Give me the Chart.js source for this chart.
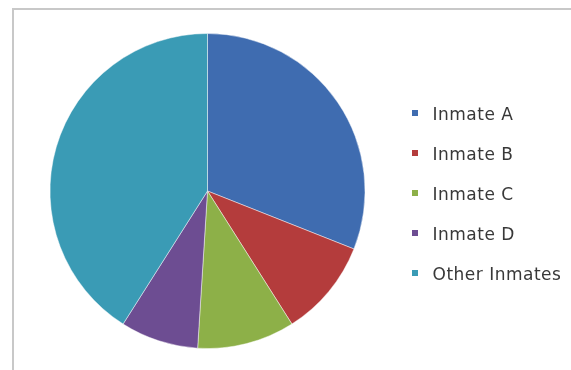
<!doctype html>
<html>
<head>
    <title>Inmates</title>
    <script src="https://cdn.jsdelivr.net/npm/chart.js@4/dist/chart.umd.min.js"></script>
    <style>
        html, body { margin: 0; background: #fff; overflow: hidden; }
        #canvas { display: block; filter: blur(0.5px); }
    </style>
</head>
<body>
    <canvas id="canvas" width="571" height="370"></canvas>
    <script>
        var labels = ['Inmate A', 'Inmate B', 'Inmate C', 'Inmate D', 'Other Inmates'];
        var values = [31, 10, 10, 8, 41];
        var colors = ['#3f6cb0', '#b43c3c', '#8db048', '#6d4d92', '#3a9bb5'];

        // small legend squares, drawn left in a wider icon so the text sits further right
        function makeIcon(color) {
            var c = document.createElement('canvas');
            c.width = 12; c.height = 12;
            var g = c.getContext('2d');
            g.fillStyle = color;
            g.fillRect(0, 0, 6, 6);
            return c;
        }
        var icons = colors.map(makeIcon);

        var tweaks = {
            id: 'tweaks',
            beforeInit: function (chart) {
                var fit = chart.legend.fit;
                chart.legend.fit = function () { fit.call(this); this.width = 182; };
            },
            beforeLayout: function (chart) { chart.ctx.letterSpacing = '0.5px'; },
            beforeDraw: function (chart) {
                var c = chart.ctx;
                c.letterSpacing = '0.5px';
                // grey frame, open to the right and bottom
                c.save();
                c.fillStyle = '#c8c8c8';
                c.fillRect(12, 8, chart.width - 12, 2);
                c.fillRect(12, 8, 2, chart.height - 8);
                c.restore();
            }
        };

        Chart.defaults.font.family = 'DejaVu Sans';

        var config = {
            type: 'pie',
            data: {
                labels: labels,
                datasets: [{
                    data: values,
                    backgroundColor: colors,
                    borderColor: 'rgba(255,255,255,0.45)',
                    borderWidth: 1
                }]
            },
            options: {
                responsive: false,
                devicePixelRatio: 1,
                animation: false,
                layout: { padding: { left: 26, top: 33, bottom: 21, right: 0 } },
                plugins: {
                    tooltip: { enabled: false },
                    legend: {
                        position: 'right',
                        // empty title only pushes the item column a little lower
                        title: { display: true, text: '', font: { size: 10, lineHeight: 1 }, padding: 0 },
                        labels: {
                            font: { size: 17 },
                            color: '#383838',
                            padding: 23,
                            usePointStyle: true,
                            pointStyleWidth: 12,
                            generateLabels: function (chart) {
                                var items = Chart.overrides.pie.plugins.legend.labels.generateLabels(chart);
                                items.forEach(function (it, i) { it.pointStyle = icons[i]; });
                                return items;
                            }
                        }
                    }
                }
            },
            plugins: [tweaks]
        };

        var ctx = document.getElementById('canvas').getContext('2d');
        window.myPie = new Chart(ctx, config);
    </script>
</body>
</html>
